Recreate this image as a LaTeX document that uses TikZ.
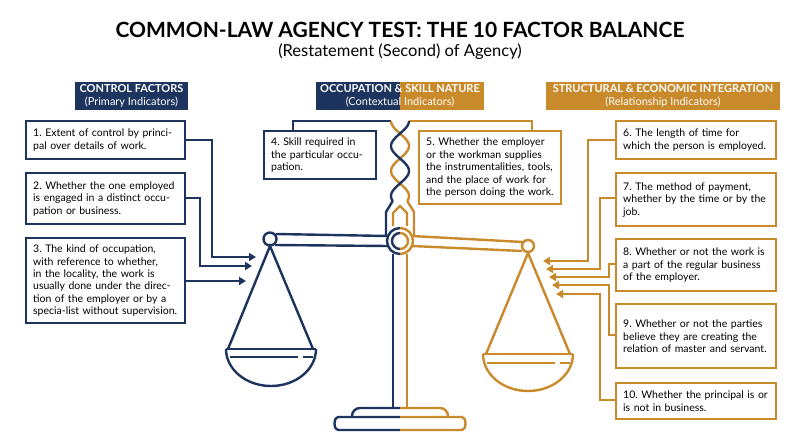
\documentclass[tikz,border=0pt]{standalone}
\usepackage{fontspec}
\setmainfont{Lato}
\usetikzlibrary{arrows.meta}
\definecolor{navy}{HTML}{1D355E}
\definecolor{gold}{HTML}{C98A2B}
\newcommand{\fac}[2]{\hangindent=1.0em\hangafter=1 #1~#2}
\begin{document}
\begin{tikzpicture}[x=1pt,y=-1pt,
  box/.style={draw,line width=2.4pt,fill=white,anchor=north west,align=left,inner xsep=7pt,inner ysep=0pt,font=\fontsize{10.5}{12.4}\selectfont,text=black},
  hdr/.style={anchor=north west,inner sep=0pt,text=white,align=center,font=\fontsize{11}{13}\selectfont},
  ln/.style={line width=2.4pt},
  arr/.style={line width=2.4pt,-{Triangle[length=7pt,width=8pt]}}]
\useasboundingbox (0,0) rectangle (800,447);
\fill[white] (0,0) rectangle (800,447);
% title
\node[font=\fontsize{21}{24}\selectfont\bfseries] (title) at (400,30) {COMMON-LAW AGENCY TEST: THE 10 FACTOR BALANCE};
\node[font=\fontsize{16.5}{19}\selectfont] (sub) at (400,52) {(Restatement (Second) of Agency)};
% headers
\fill[navy] (75,82) rectangle (188,110);
\node[hdr] (h1) at (131.5,96) [anchor=center] {\textbf{CONTROL FACTORS}\\(Primary Indicators)};
\fill[navy] (316,82) rectangle (400,110);
\fill[gold] (400,82) rectangle (484,110);
\node[hdr] (h2) at (400,96) [anchor=center] {\textbf{OCCUPATION \& SKILL NATURE}\\(Contextual Indicators)};
\fill[gold] (546,82) rectangle (780,110);
\node[hdr] (h3) at (663,96) [anchor=center] {\textbf{STRUCTURAL \& ECONOMIC INTEGRATION}\\(Relationship Indicators)};

% twisted strands
\draw[ln,navy] (293,131)--(293,121)--(391,121);
\draw[ln,gold] (532,131)--(532,121)--(409,121);
\draw[ln,gold] plot[domain=0:80,samples=70] ({400-9*cos(\x*7.2)},{121+\x});
\draw[ln,navy] plot[domain=0:80,samples=70] ({400+9*cos(\x*7.2)},{121+\x});
% crown
\draw[ln,navy] ({400+9*cos(576)},201)--(386,212)--(386,236);
\draw[ln,gold] ({400-9*cos(576)},201)--(414,212)--(414,236);
\draw[ln,gold] (393,226)--(393,213)--(400,206)--(407,213)--(407,226);

% post
\draw[ln,navy] (393,254)--(393,408);
\draw[ln,gold] (407,254)--(407,408);
% base
\draw[ln,navy] (400,408)--(360,408) arc(270:180:8)--(352,417);
\draw[ln,gold] (400,408)--(440,408) arc(270:360:8)--(448,417);
\draw[ln,navy] (400,417)--(338,417) arc(270:90:3.5 and 6.5)--(400,430);
\draw[ln,gold] (400,417)--(462,417) arc(-90:90:3.5 and 6.5)--(400,430);
% beam
\draw[ln,navy] (276,234)--(388,236);
\draw[ln,navy] (275,245)--(388,246);
\draw[ln,gold] (412,236)--(523,242);
\draw[ln,gold] (412,246)--(522,251);
\draw[ln,navy,fill=white] (270,239) circle (6.5);
\draw[ln,gold,fill=white] (528,246) circle (6);
\fill[white] (400,241) circle (13);
\draw[ln,navy] (400,254) arc(90:270:13);
\draw[ln,gold] (400,228) arc(-90:90:13);
\draw[ln,navy] (400,249) arc(90:270:8);
\draw[ln,gold] (400,233) arc(-90:90:8);
% left pan
\draw[ln,navy] (228,349)--(270,246)--(313,349);
\draw[ln,navy] (226,349)--(316,349);
\draw[ln,navy] (230,357)--(298,357) (303,357)--(313,357);
\draw[ln,navy] (226,349) arc(180:0:45 and 37);
% right pan
\draw[ln,gold] (486,354)--(528,253)--(570,354);
\draw[ln,gold] (483,354)--(573,354);
\draw[ln,gold] (487,363)--(555,363) (560,363)--(570,363);
\draw[ln,gold] (483,354) arc(180:0:45 and 37);

% boxes
\node[box,draw=navy,minimum width=159pt,minimum height=38pt,text width=145pt] (b1) at (25,120) {\fac{1.}{Extent of control by principal over details of work.}};
\node[box,draw=navy,minimum width=159pt,minimum height=51pt,text width=145pt] (b2) at (25,172) {\fac{2.}{Whether the one employed is engaged in a distinct occupation or business.}};
\node[box,draw=navy,minimum width=159pt,minimum height=85pt,text width=145pt] (b3) at (25,237) {\fac{3.}{The kind of occupation, with reference to whether, in the locality, the work is usually done under the direction of the employer or by a specia-list without supervision.}};
\node[box,draw=navy,minimum width=112pt,minimum height=48pt,text width=98pt] (b4) at (263,130) {\fac{4.}{Skill required in the particular occupation.}};
\node[box,draw=gold,minimum width=140pt,minimum height=73pt,text width=128pt] (b5) at (418,130) {\fac{5.}{Whether the employer or the workman supplies the instrumentalities, tools, and the place of work for the person doing the work.}};
\node[box,draw=gold,minimum width=160pt,minimum height=38pt,text width=146pt] (b6) at (615,120) {\fac{6.}{The length of time for which the person is employed.}};
\node[box,draw=gold,minimum width=160pt,minimum height=53pt,text width=146pt] (b7) at (615,172) {\fac{7.}{The method of payment, whether by the time or by the job.}};
\node[box,draw=gold,minimum width=160pt,minimum height=52pt,text width=146pt] (b8) at (615,238) {\fac{8.}{Whether or not the work is a part of the regular business of the employer.}};
\node[box,draw=gold,minimum width=160pt,minimum height=64pt,text width=146pt] (b9) at (615,303) {\fac{9.}{Whether or not the parties believe they are creating the relation of master and servant.}};
\node[box,draw=gold,minimum width=160pt,minimum height=36pt,text width=146pt] (b10) at (615,382) {\hangindent=1.6em\hangafter=1 10.~Whether the principal is or is not in business.};

% left connectors
\coordinate (e1) at (256,257); \coordinate (e2) at (252,266); \coordinate (e3) at (246,281);
\draw[arr,navy] (b1.east |- 0,140) -| (212,257) -- (e1);
\draw[arr,navy] (b2.east |- 0,198) -| (200,266) -- (e2);
\draw[arr,navy] (b3.east |- 0,281) -- (e3);
% right connectors
\coordinate (f1) at (543,261); \coordinate (f2) at (546,269); \coordinate (f3) at (549,277); \coordinate (f4) at (552,285); \coordinate (f5) at (556,294);
\draw[arr,gold] (b6.west |- 0,140) -| (588,261) -- (f1);
\draw[arr,gold] (b7.west |- 0,198) -| (600,269) -- (f2);
\draw[arr,gold] (b8.west |- 0,264) -| (609,277) -- (f3);
\draw[arr,gold] (b9.west |- 0,335) -| (609,285) -- (f4);
\draw[arr,gold] (b10.west |- 0,400) -| (600,294) -- (f5);
\end{tikzpicture}
\end{document}
